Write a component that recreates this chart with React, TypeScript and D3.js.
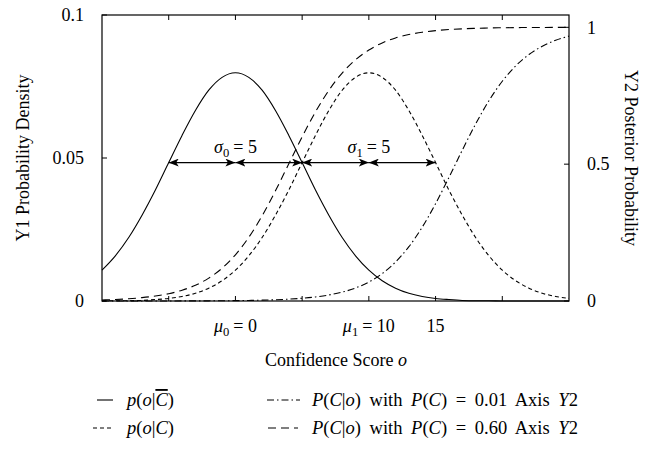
import React from 'react';
import * as d3 from 'd3';

// confidence score grid, step 1
const scores = d3.range(-10, 26);

// p(o|C-bar), mu0 = 0, sigma0 = 5
const densityNeg = [
  0.0108, 0.0158, 0.0222, 0.03, 0.0388, 0.0484, 0.0579, 0.0666, 0.0737, 0.0782,
  0.0798, 0.0782, 0.0737, 0.0666, 0.0579, 0.0484, 0.0388, 0.03, 0.0222, 0.0158,
  0.0108, 0.0071, 0.0045, 0.0027, 0.0016, 0.0009, 0.0005, 0.0002, 0.0001, 0.0001,
  0, 0, 0, 0, 0, 0,
];

// p(o|C), mu1 = 10, sigma1 = 5
const densityPos = [
  0, 0.0001, 0.0001, 0.0002, 0.0005, 0.0009, 0.0016, 0.0027, 0.0045, 0.0071,
  0.0108, 0.0158, 0.0222, 0.03, 0.0388, 0.0484, 0.0579, 0.0666, 0.0737, 0.0782,
  0.0798, 0.0782, 0.0737, 0.0666, 0.0579, 0.0484, 0.0388, 0.03, 0.0222, 0.0158,
  0.0108, 0.0071, 0.0045, 0.0027, 0.0016, 0.0009,
];

// P(C|o) with P(C) = 0.01  (axis Y2)
const posteriorLow = [
  0.00003, 0.00004, 0.00006, 0.00008, 0.00012, 0.00019, 0.00028, 0.00041, 0.00061, 0.00092,
  0.00137, 0.00204, 0.00303, 0.00452, 0.00672, 0.01, 0.01485, 0.022, 0.0324, 0.0476,
  0.0694, 0.1002, 0.1425, 0.1984, 0.2698, 0.3555, 0.4513, 0.551, 0.6466, 0.7319,
  0.8029, 0.8587, 0.9007, 0.9311, 0.9527, 0.9679,
];

// P(C|o) with P(C) = 0.60  (axis Y2)
const posteriorHigh = [
  0.0037, 0.0055, 0.0082, 0.0122, 0.0181, 0.0267, 0.0394, 0.0576, 0.0836, 0.1198,
  0.1688, 0.2325, 0.3112, 0.4026, 0.5014, 0.6, 0.6911, 0.7695, 0.8328, 0.8814,
  0.9172, 0.943, 0.9611, 0.9735, 0.9821, 0.9879, 0.9919, 0.9945, 0.9963, 0.9975,
  0.9984, 0.9989, 0.9993, 0.9995, 0.9997, 0.9998,
];

const xTicks = [-5, 0, 5, 10, 15, 20];
const y1Ticks = [0, 0.05, 0.1];
const y1TickLabels = ['0', '0.05', '0.1'];
const y2Ticks = [0, 0.5, 1];
const y2TickLabels = ['0', '0.5', '1'];

// sigma arrows drawn at the density height one sigma from the mean
const arrowSpans = [[-5, 0], [0, 5], [5, 10], [10, 15]];
const arrowLevel = 0.0484;

const FONT = "'Liberation Serif', 'DejaVu Serif', serif";
const FS = 18;

const W = 649, H = 453;
const left = 102, right = 569, top = 15, bottom = 301;

// italic symbol with a small subscript, followed by the rest of the text
const Sub = ({ v, s, rest }: { v: string; s: string; rest: string }) => (
  <>
    <tspan fontStyle="italic">{v}</tspan>
    <tspan fontSize={FS * 0.7} dy={4}>{s}</tspan>
    <tspan dy={-4} dx={4}>{rest}</tspan>
  </>
);

const I = ({ c }: { c: string }) => <tspan fontStyle="italic">{c}</tspan>;

export default function App() {
  const x = d3.scaleLinear().domain([-10, 25]).range([left, right]);
  const y1 = d3.scaleLinear().domain([0, 0.1]).range([bottom, top]);
  const y2 = d3.scaleLinear().domain([0, 1.045]).range([bottom, top]);

  const mk = (vals: number[], y: d3.ScaleLinear<number, number>) =>
    d3.line<number>()
      .x((_, i) => x(scores[i]))
      .y(d => y(d))
      .curve(d3.curveMonotoneX)(vals) || '';

  const series = [
    { d: mk(densityNeg, y1), dash: undefined },
    { d: mk(densityPos, y1), dash: '4,3' },
    { d: mk(posteriorLow, y2), dash: '7,3,1.5,3' },
    { d: mk(posteriorHigh, y2), dash: '8,5' },
  ];

  const ya = y1(arrowLevel);

  return (
    <svg width={W} height={H} style={{ position: 'absolute', left: 0, top: 0, fontFamily: FONT }}
      fontSize={FS}>
      <defs>
        <marker id="ah" viewBox="0 0 10 8" refX="10" refY="4" markerWidth="10" markerHeight="8"
          markerUnits="userSpaceOnUse" orient="auto-start-reverse">
          <path d="M0,0 L10,4 L0,8 L2.5,4 Z" fill="#000" />
        </marker>
      </defs>

      {/* curves */}
      <g fill="none" stroke="#000" strokeWidth={1.1}>
        {series.map((s, i) => (
          <path key={i} d={s.d} strokeDasharray={s.dash} />
        ))}
      </g>

      {/* frame and ticks */}
      <rect x={left} y={top} width={right - left} height={bottom - top}
        fill="none" stroke="#000" strokeWidth={1.2} />
      <g stroke="#000" strokeWidth={1}>
        {xTicks.map(t => (
          <g key={t}>
            <line x1={x(t)} x2={x(t)} y1={bottom} y2={bottom - 5} />
            <line x1={x(t)} x2={x(t)} y1={top} y2={top + 5} />
          </g>
        ))}
        {y1Ticks.map(t => (
          <line key={t} x1={left} x2={left + 5} y1={y1(t)} y2={y1(t)} />
        ))}
        {y2Ticks.map(t => (
          <line key={t} x1={right} x2={right - 5} y1={y2(t)} y2={y2(t)} />
        ))}
      </g>

      {/* tick labels */}
      {y1Ticks.map((t, i) => (
        <text key={t} x={left - 18} y={y1(t)} dy="0.35em" textAnchor="end">{y1TickLabels[i]}</text>
      ))}
      {y2Ticks.map((t, i) => (
        <text key={t} x={right + 18} y={y2(t)} dy="0.35em">{y2TickLabels[i]}</text>
      ))}
      <text x={x(0)} y={bottom + 31} textAnchor="middle">
        <Sub v="μ" s="0" rest="= 0" />
      </text>
      <text x={x(10)} y={bottom + 31} textAnchor="middle">
        <Sub v="μ" s="1" rest="= 10" />
      </text>
      <text x={x(15)} y={bottom + 31} textAnchor="middle">15</text>

      {/* axis titles */}
      <text x={336} y={bottom + 65} textAnchor="middle">
        Confidence Score <I c="o" />
      </text>
      <text transform={`translate(29,${(top + bottom) / 2}) rotate(-90)`} textAnchor="middle">
        Y1 Probability Density
      </text>
      <text transform={`translate(625,${(top + bottom) / 2}) rotate(90)`} textAnchor="middle">
        Y2 Posterior Probability
      </text>

      {/* sigma arrows */}
      <g stroke="#000" strokeWidth={1.1}>
        {arrowSpans.map(([a, b], i) => (
          <line key={i} x1={x(a)} x2={x(b)} y1={ya} y2={ya}
            markerStart="url(#ah)" markerEnd="url(#ah)" />
        ))}
      </g>
      <text x={x(-1.6)} y={ya - 10}>
        <Sub v="σ" s="0" rest="= 5" />
      </text>
      <text x={x(8.4)} y={ya - 10}>
        <Sub v="σ" s="1" rest="= 5" />
      </text>

      {/* legend */}
      <g fill="none" stroke="#000" strokeWidth={1.1}>
        <line x1={97} x2={113} y1={400} y2={400} />
        <line x1={93} x2={113} y1={428} y2={428} strokeDasharray="4,3" />
        <line x1={267} x2={300} y1={400} y2={400} strokeDasharray="7,3,1.5,3" />
        <line x1={268} x2={298} y1={428} y2={428} strokeDasharray="8,5" />
      </g>
      <g fontSize={18.5} style={{ wordSpacing: '4px' }}>
        <text x={127} y={406}>
          <I c="p" />(<I c="o" />|<tspan fontStyle="italic" textDecoration="overline">C</tspan>)
        </text>
        <text x={127} y={434}>
          <I c="p" />(<I c="o" />|<I c="C" />)
        </text>
        <text x={312} y={406}>
          <I c="P" />(<I c="C" />|<I c="o" />) with <I c="P" />(<I c="C" />) = 0.01 Axis <I c="Y" />2
        </text>
        <text x={312} y={434}>
          <I c="P" />(<I c="C" />|<I c="o" />) with <I c="P" />(<I c="C" />) = 0.60 Axis <I c="Y" />2
        </text>
      </g>
    </svg>
  );
}
